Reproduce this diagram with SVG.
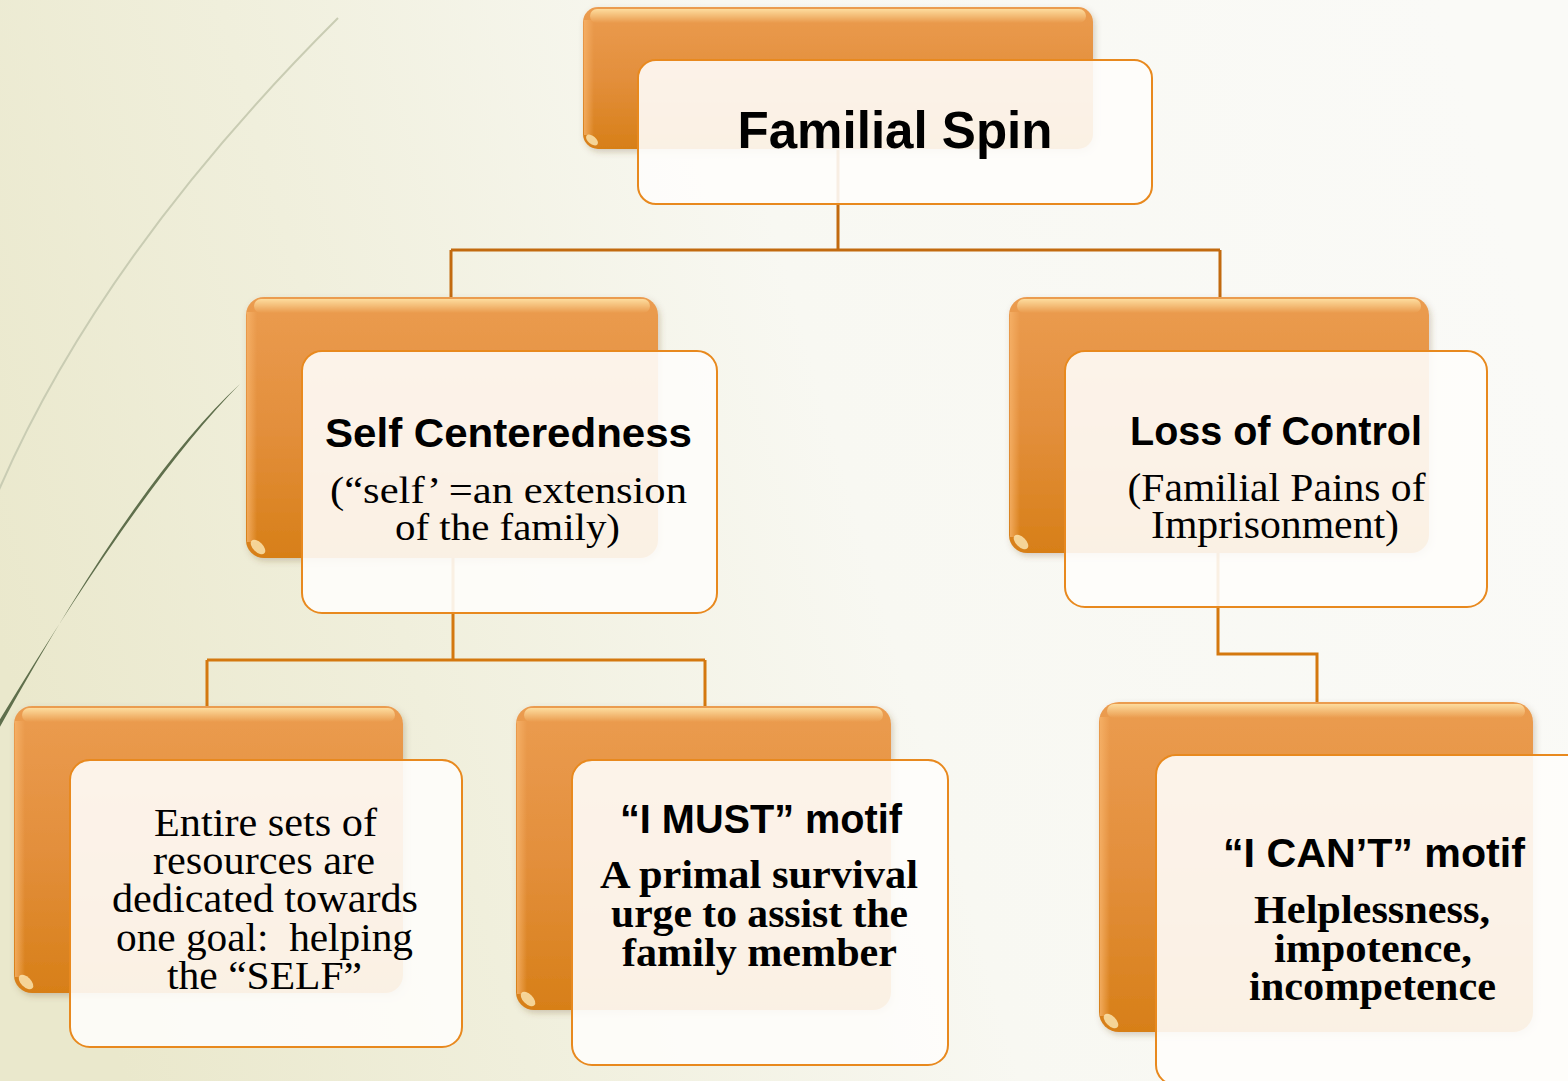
<svg xmlns="http://www.w3.org/2000/svg" width="1568" height="1081" viewBox="0 0 1568 1081">
<defs>
<linearGradient id="bg" x1="0" y1="0.6" x2="1" y2="0.4">
<stop offset="0" stop-color="#eae8cc"/>
<stop offset="0.25" stop-color="#f0efdc"/>
<stop offset="0.55" stop-color="#f8f8f2"/>
<stop offset="1" stop-color="#fafaf7"/>
</linearGradient>
<linearGradient id="org" x1="0" y1="0" x2="0" y2="1">
<stop offset="0" stop-color="#eb9c50"/>
<stop offset="0.5" stop-color="#e38f3c"/>
<stop offset="1" stop-color="#d77f18"/>
</linearGradient>
<linearGradient id="hl" x1="0" y1="0" x2="0" y2="1">
<stop offset="0" stop-color="#ffe3a6" stop-opacity="0.9"/>
<stop offset="1" stop-color="#ffe3a6" stop-opacity="0"/>
</linearGradient>
<linearGradient id="lhl" x1="0" y1="0" x2="1" y2="0">
<stop offset="0" stop-color="#f7b36a" stop-opacity="0.8"/>
<stop offset="1" stop-color="#f7b36a" stop-opacity="0"/>
</linearGradient>
<filter id="sh" x="-5%" y="-5%" width="112%" height="115%">
<feDropShadow dx="2" dy="3" stdDeviation="3" flood-color="#6b4a20" flood-opacity="0.25"/>
</filter>
</defs>
<style>
.back{fill:url(#org);filter:url(#sh)}
.top{fill:url(#hl)}
.left{fill:url(#lhl)}
.gl{fill:#fff0c0;opacity:0.75}
.front{fill:#fefdfb;fill-opacity:0.9;stroke:#e8891e;stroke-width:2}
.h{font-family:"Liberation Sans",Arial,sans-serif;font-weight:bold;fill:#000;text-anchor:middle}
.s{font-family:"Liberation Serif","Times New Roman",serif;fill:#000;text-anchor:middle}
.sb{font-family:"Liberation Serif","Times New Roman",serif;font-weight:bold;fill:#000;text-anchor:middle}
.c1{fill:none;stroke:#c26a0f;stroke-width:3}
.c2{fill:none;stroke:#d4780f;stroke-width:3}
</style>
<rect x="0" y="0" width="1568" height="1081" fill="url(#bg)"/>
<path d="M338,18 Q101,254 -2,492" fill="none" stroke="#c9ccb3" stroke-width="2"/>
<path d="M240,384 Q137,478 -4,734 L-4,726 Q143,482 240,384 Z" fill="#5f6f4c"/>

<g id="connectors">
<path class="c1" d="M838,150 V250 M451,250 H1220 M451,250 V297 M1220,250 V297"/>
<path class="c2" d="M453,558 V660 M207,660 H705 M207,660 V706 M705,660 V706"/>
<path class="c2" d="M1218,553 V654 H1317 V702"/>
</g>

<g id="node-familial-spin">
<rect class="back" x="583" y="7" width="510" height="142" rx="15"/>
<rect class="top" x="590" y="9" width="496" height="14" rx="7"/>
<rect class="left" x="584" y="20" width="10" height="115"/>
<ellipse class="gl" cx="592" cy="140" rx="7" ry="4" transform="rotate(40 592 140)"/>
<rect class="front" x="638" y="60" width="514" height="144" rx="18"/>
<text class="h" x="895" y="148" font-size="52" textLength="315" lengthAdjust="spacingAndGlyphs">Familial Spin</text>
</g>

<g id="node-self-centeredness">
<rect class="back" x="246" y="297" width="412" height="261" rx="18"/>
<rect class="top" x="254" y="299" width="396" height="14" rx="7"/>
<rect class="left" x="247" y="312" width="10" height="230"/>
<ellipse class="gl" cx="258" cy="547" rx="9" ry="5" transform="rotate(45 258 547)"/>
<rect class="front" x="302" y="351" width="415" height="262" rx="20"/>
<text class="h" x="508.5" y="447" font-size="40" textLength="367" lengthAdjust="spacingAndGlyphs">Self Centeredness</text>
<text class="s" x="508.5" y="503" font-size="38" textLength="357" lengthAdjust="spacingAndGlyphs">(“self’ =an extension</text>
<text class="s" x="507.5" y="540" font-size="38" textLength="225" lengthAdjust="spacingAndGlyphs">of the family)</text>
</g>

<g id="node-loss-of-control">
<rect class="back" x="1009" y="297" width="420" height="256" rx="18"/>
<rect class="top" x="1017" y="299" width="404" height="14" rx="7"/>
<rect class="left" x="1010" y="312" width="10" height="225"/>
<ellipse class="gl" cx="1021" cy="542" rx="9" ry="5" transform="rotate(45 1021 542)"/>
<rect class="front" x="1065" y="351" width="422" height="256" rx="20"/>
<text class="h" x="1276" y="445" font-size="41" textLength="292" lengthAdjust="spacingAndGlyphs">Loss of Control</text>
<text class="s" x="1276.5" y="501" font-size="39" textLength="298" lengthAdjust="spacingAndGlyphs">(Familial Pains of</text>
<text class="s" x="1275" y="538" font-size="39" textLength="248" lengthAdjust="spacingAndGlyphs">Imprisonment)</text>
</g>

<g id="node-entire-sets">
<rect class="back" x="14" y="706" width="389" height="287" rx="18"/>
<rect class="top" x="22" y="708" width="373" height="14" rx="7"/>
<rect class="left" x="15" y="721" width="10" height="256"/>
<ellipse class="gl" cx="26" cy="982" rx="9" ry="5" transform="rotate(45 26 982)"/>
<rect class="front" x="70" y="760" width="392" height="287" rx="20"/>
<text class="s" x="265.5" y="836" font-size="40" textLength="223" lengthAdjust="spacingAndGlyphs">Entire sets of</text>
<text class="s" x="264" y="874" font-size="40" textLength="222" lengthAdjust="spacingAndGlyphs">resources are</text>
<text class="s" x="265" y="912" font-size="40" textLength="306" lengthAdjust="spacingAndGlyphs">dedicated towards</text>
<text class="s" x="264.5" y="951" font-size="40" textLength="297" lengthAdjust="spacingAndGlyphs" style="white-space:pre">one goal:  helping</text>
<text class="s" x="264.5" y="989" font-size="40" textLength="195" lengthAdjust="spacingAndGlyphs">the “SELF”</text>
</g>

<g id="node-i-must">
<rect class="back" x="516" y="706" width="375" height="304" rx="18"/>
<rect class="top" x="524" y="708" width="359" height="14" rx="7"/>
<rect class="left" x="517" y="721" width="10" height="273"/>
<ellipse class="gl" cx="528" cy="999" rx="9" ry="5" transform="rotate(45 528 999)"/>
<rect class="front" x="572" y="760" width="376" height="305" rx="20"/>
<text class="h" x="761" y="833" font-size="41" textLength="282" lengthAdjust="spacingAndGlyphs">“I MUST” motif</text>
<text class="sb" x="759" y="888" font-size="40" textLength="318" lengthAdjust="spacingAndGlyphs">A primal survival</text>
<text class="sb" x="759.5" y="927" font-size="40" textLength="297" lengthAdjust="spacingAndGlyphs">urge to assist the</text>
<text class="sb" x="759.5" y="966" font-size="40" textLength="275" lengthAdjust="spacingAndGlyphs">family member</text>
</g>

<g id="node-i-cant">
<rect class="back" x="1099" y="702" width="434" height="330" rx="20"/>
<rect class="top" x="1107" y="704" width="418" height="14" rx="7"/>
<rect class="left" x="1100" y="717" width="10" height="299"/>
<ellipse class="gl" cx="1111" cy="1021" rx="9" ry="5" transform="rotate(45 1111 1021)"/>
<rect class="front" x="1156" y="755" width="433" height="330" rx="20"/>
<text class="h" x="1374" y="867" font-size="41" textLength="302" lengthAdjust="spacingAndGlyphs">“I CAN’T” motif</text>
<text class="sb" x="1372" y="923" font-size="40" textLength="236" lengthAdjust="spacingAndGlyphs">Helplessness,</text>
<text class="sb" x="1373" y="962" font-size="40" textLength="198" lengthAdjust="spacingAndGlyphs">impotence,</text>
<text class="sb" x="1372.5" y="1000" font-size="40" textLength="247" lengthAdjust="spacingAndGlyphs">incompetence</text>
</g>
</svg>
